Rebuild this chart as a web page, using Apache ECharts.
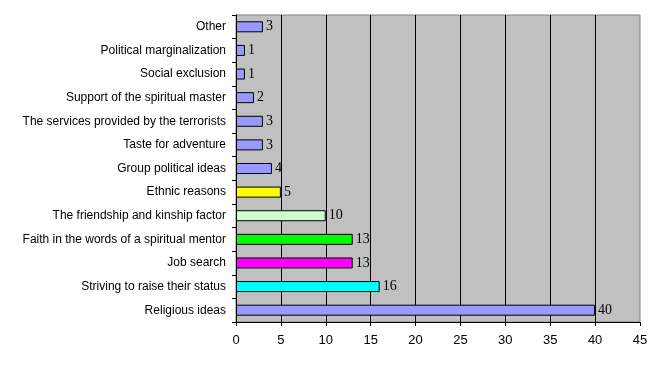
<!DOCTYPE html>
<html>
<head>
<meta charset="utf-8">
<script src="https://cdn.jsdelivr.net/npm/echarts@6/dist/echarts.min.js"></script>
<style>
  html, body { margin: 0; padding: 0; background: #fff; }
  #chart { width: 666px; height: 369px; }
</style>
</head>
<body>
<div id="chart"></div>
<script>
// categories from top to bottom
var categories = [
  'Other',
  'Political marginalization',
  'Social exclusion',
  'Support of the spiritual master',
  'The services provided by the terrorists',
  'Taste for adventure',
  'Group political ideas',
  'Ethnic reasons',
  'The friendship and kinship factor',
  'Faith in the words of a spiritual mentor',
  'Job search',
  'Striving to raise their status',
  'Religious ideas'
];
var values = [3, 1, 1, 2, 3, 3, 4, 5, 10, 13, 13, 16, 40];
var barColors = [
  '#9999FF', '#9999FF', '#9999FF', '#9999FF', '#9999FF', '#9999FF', '#9999FF',
  '#FFFF00', '#CCFFCC', '#00FF00', '#FF00FF', '#00FFFF', '#9999FF'
];

var chart = echarts.init(document.getElementById('chart'));

var option = {
  animation: false,
  grid: {
    left: 236, right: 26, top: 15, bottom: 47,
    show: true,
    backgroundColor: '#C0C0C0',
    borderColor: '#808080',
    borderWidth: 1
  },
  xAxis: {
    type: 'value',
    min: 0, max: 45, interval: 5,
    axisLine: { show: true, lineStyle: { color: '#000', width: 1 } },
    axisTick: { show: true, length: 4, lineStyle: { color: '#000' } },
    axisLabel: { color: '#000', fontFamily: 'Liberation Sans', fontSize: 13, margin: 12 },
    splitLine: { show: true, showMinLine: false, showMaxLine: false, lineStyle: { color: '#000', width: 1 } }
  },
  yAxis: {
    type: 'category',
    inverse: true,
    data: categories,
    axisLine: { show: true, lineStyle: { color: '#000', width: 1 } },
    axisTick: { show: true, length: 4, lineStyle: { color: '#000' } },
    axisLabel: { color: '#000', fontFamily: 'Liberation Sans', fontSize: 12, margin: 10 }
  },
  series: [{
    type: 'bar',
    data: values.map(function (v, i) {
      return { value: v, itemStyle: { color: barColors[i] } };
    }),
    barWidth: 11,
    itemStyle: { borderColor: '#000', borderWidth: 1 },
    label: {
      show: true,
      position: 'right',
      distance: 3,
      color: '#000',
      fontFamily: 'Liberation Serif',
      fontSize: 14
    }
  }]
};

chart.setOption(option);
</script>
</body>
</html>
